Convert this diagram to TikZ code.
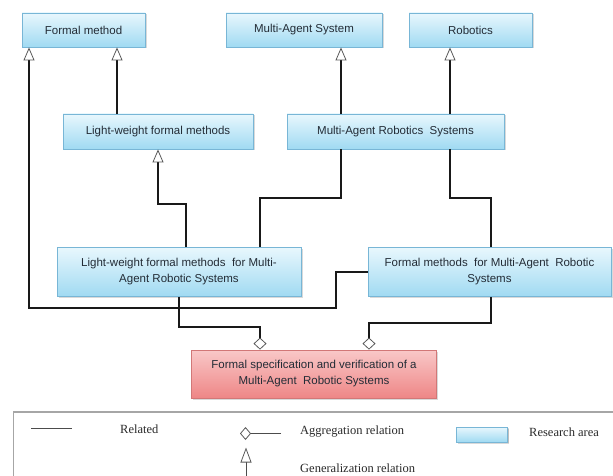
\documentclass[tikz,border=0pt]{standalone}
\usepackage{fontspec}
\setmainfont{Liberation Serif}
\setsansfont{Liberation Sans}
\usepackage{xcolor}
\usetikzlibrary{shapes,arrows.meta,positioning,shadows}

\definecolor{areatop}{HTML}{E8F7FD}
\definecolor{areabot}{HTML}{A0DAF2}
\definecolor{arealine}{HTML}{78B6D6}
\definecolor{goaltop}{HTML}{F9C8C8}
\definecolor{goalbot}{HTML}{EE8686}
\definecolor{goalline}{HTML}{D27777}
\definecolor{boxtext}{HTML}{232C36}
\definecolor{keytext}{HTML}{2A2A2A}

\begin{document}
\begin{tikzpicture}[x=1pt, y=-1pt,
    area/.style={draw=arealine, line width=0.8pt, rectangle, top color=areatop, bottom color=areabot,
        text=boxtext, font=\sffamily\fontsize{11.5}{16}\selectfont, align=center, inner sep=0pt,
        drop shadow={shadow xshift=1.5pt, shadow yshift=-1.5pt, opacity=0.3}},
    goal/.style={area, draw=goalline, top color=goaltop, bottom color=goalbot},
    related/.style={draw=black!90, line width=1.3pt},
    general/.style={related, -{Triangle[open, length=13pt, width=11pt, line width=0.8pt, color=black!65]}},
    aggreg/.style={related, -{Diamond[open, length=12pt, width=13pt, line width=0.8pt, color=black!65]}},
    keyline/.style={draw=black!70, line width=0.9pt},
    keytxt/.style={font=\fontsize{12.5}{15}\selectfont, text=keytext, anchor=west, inner sep=0pt}]
    \useasboundingbox (0,0) rectangle (613,476);

    % Nodes
    \node[area, minimum width=123pt, minimum height=34pt] (formal) at (83.5,30) {Formal method};
    \node[area, minimum width=156pt, minimum height=34pt] (mas) at (304,30) {Multi-Agent System};
    \node[area, minimum width=123pt, minimum height=34pt] (robotics) at (470.5,30) {Robotics};
    \node[area, minimum width=190pt, minimum height=35pt] (lightweight) at (158,131.5) {Light-weight formal methods};
    \node[area, minimum width=217pt, minimum height=35pt] (mars) at (395.5,131.5) {Multi-Agent Robotics\ \ Systems};
    \node[area, minimum width=244pt, minimum height=49pt] (lwmars) at (179,272) {Light-weight formal methods\ \ for Multi-\\Agent Robotic Systems};
    \node[area, minimum width=243pt, minimum height=49pt] (fmmars) at (489.5,272) {Formal methods\ \ for Multi-Agent\ \ Robotic\\Systems};
    \node[goal, minimum width=245pt, minimum height=48pt] (spec) at (314,374) {Formal specification and verification of a\\Multi-Agent\ \ Robotic Systems};

    % Arrows
    \draw[general] ([xshift=-41pt]lightweight.north) -- ([xshift=33.5pt]formal.south);
    \draw[general] ([xshift=-54.5pt]mars.north) -- ([xshift=37pt]mas.south);
    \draw[general] ([xshift=54.5pt]mars.north) -- ([xshift=-20.5pt]robotics.south);
    \draw[general] ([xshift=7pt]lwmars.north) -- (186,204) -| (lightweight.south);
    \draw[general] (fmmars.west) -- (336,272) |- (29,308) -- ([xshift=-54.5pt]formal.south);
    \draw[related] ([xshift=-54.5pt]mars.south) -- (341,198) -| ([xshift=81pt]lwmars.north);
    \draw[related] ([xshift=54.5pt]mars.south) -- (450,198) -| ([xshift=1.5pt]fmmars.north);
    \draw[aggreg] (lwmars.south) -- (179,327) -| ([xshift=-54pt]spec.north);
    \draw[aggreg] ([xshift=1.5pt]fmmars.south) -- (491,323) -| ([xshift=55pt]spec.north);

    % Legend
    \draw[black!35, line width=1.3pt] (13.7,412) rectangle (640,500);
    \coordinate (relA) at (31,428);
    \coordinate (relB) at (72,428);
    \draw[keyline] (relA) -- (relB);
    \node[keytxt] (reltext) at (120,429) {Related};
    \coordinate (aggA) at (281,433.5);
    \coordinate (aggB) at (240,433.5);
    \draw[keyline, -{Diamond[open, length=11pt, width=13pt, line width=0.8pt, color=black!65]}] (aggA) -- (aggB);
    \node[keytxt] (aggtext) at (300,432) {Aggregation relation};
    \node[area, minimum width=51pt, minimum height=15pt, drop shadow={shadow xshift=1pt, shadow yshift=-1pt, opacity=0.3}] (areakey) at (482,434.5) {};
    \node[keytxt] (areatext) at (529,432) {Research area};
    \coordinate (genA) at (246,485);
    \coordinate (genB) at (246,447.5);
    \draw[keyline, -{Triangle[open, length=15pt, width=11pt, line width=0.8pt, color=black!65]}] (genA) -- (genB);
    \node[keytxt] (gentext) at (300,468) {Generalization relation};
\end{tikzpicture}
\end{document}
